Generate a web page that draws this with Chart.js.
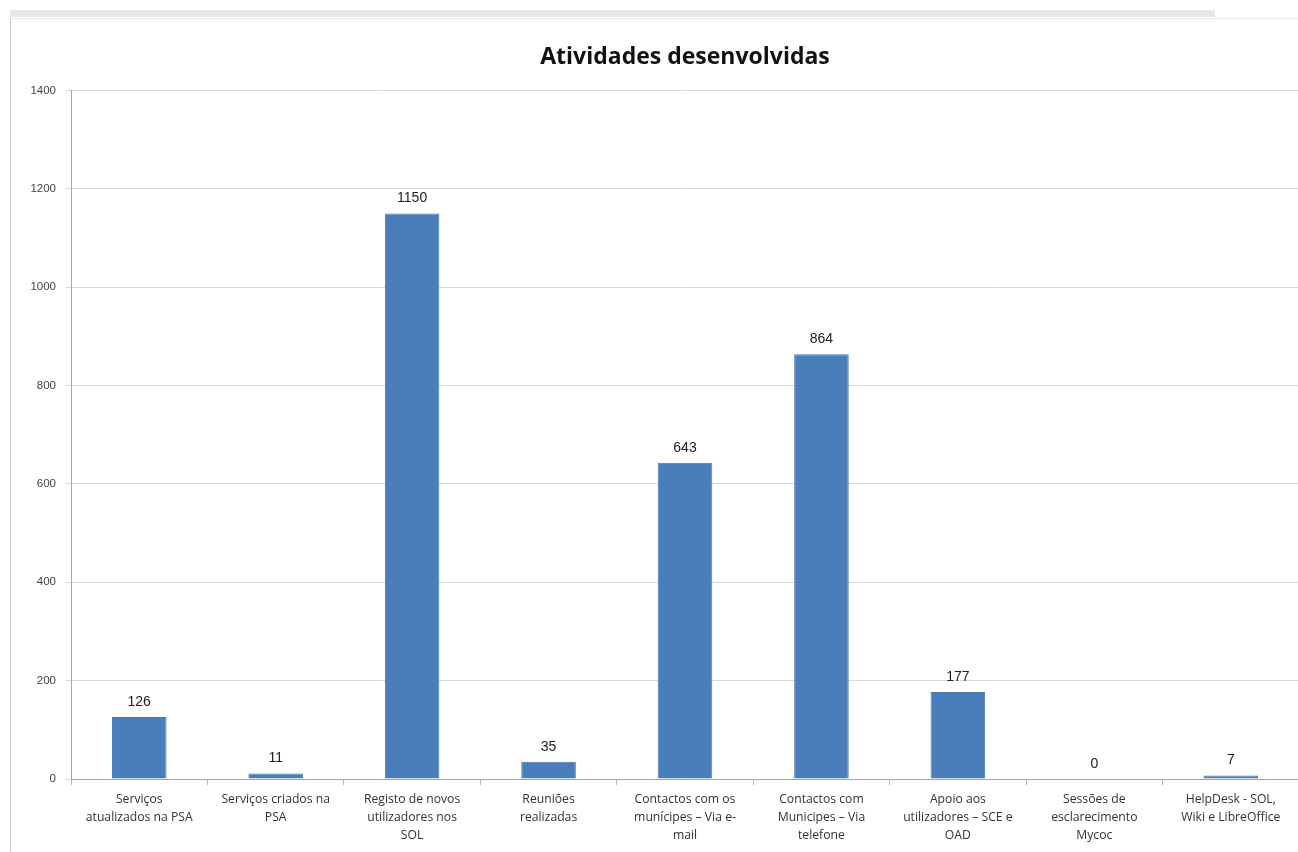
<!DOCTYPE html>
<html>
<head>
<meta charset="utf-8">
<script src="https://cdn.jsdelivr.net/npm/chart.js@4.4.0/dist/chart.umd.min.js"></script>
<style>
  html, body { margin: 0; padding: 0; background: #fff; }
  body { width: 1298px; height: 852px; position: relative; overflow: hidden; }
  #strip { position: absolute; left: 10px; top: 10px; width: 1205px; height: 7px; background: #e6e6e6; }
  #box { position: absolute; left: 10px; top: 18px; width: 1288px; height: 834px; border-left: 1px solid #cfcfcf; border-top: 1px solid #ececec; box-sizing: border-box; }
  #wrap { position: absolute; left: 1px; top: 0; width: 1287px; height: 834px; }
</style>
</head>
<body>
<div id="strip"></div>
<div id="box"><div id="wrap"><canvas id="chart"></canvas></div></div>
<script>
const categories = [
    ["Serviços", "atualizados na PSA"],
    ["Serviços criados na", "PSA"],
    ["Registo de novos", "utilizadores nos", "SOL"],
    ["Reuniões", "realizadas"],
    ["Contactos com os", "munícipes – Via e-", "mail"],
    ["Contactos com", "Municipes – Via", "telefone"],
    ["Apoio aos", "utilizadores – SCE e", "OAD"],
    ["Sessões de", "esclarecimento", "Mycoc"],
    ["HelpDesk - SOL,", "Wiki e LibreOffice"]
];
const activityValues = [126, 11, 1150, 35, 643, 864, 177, 0, 7];
const yTicks = [0, 200, 400, 600, 800, 1000, 1200, 1400];

// draw the value above each bar
const valueLabels = {
    id: 'valueLabels',
    afterDatasetsDraw(chart) {
        const ctx = chart.ctx;
        const meta = chart.getDatasetMeta(0);
        ctx.save();
        ctx.font = '14px "Liberation Sans", Arial, sans-serif';
        ctx.fillStyle = '#222';
        ctx.textAlign = 'center';
        ctx.textBaseline = 'bottom';
        meta.data.forEach((bar, i) => {
            ctx.fillText(String(activityValues[i]), bar.x, bar.y - 8);
        });
        ctx.restore();
    }
};

new Chart(document.getElementById('chart'), {
    type: 'bar',
    data: {
        labels: categories,
        datasets: [{
            data: activityValues,
            backgroundColor: '#4a7ebb',
            borderColor: '#4577b3',
            borderWidth: 1,
            barPercentage: 0.4,
            categoryPercentage: 1
        }]
    },
    options: {
        responsive: true,
        maintainAspectRatio: false,
        animation: false,
        layout: { padding: { left: 0, right: 0, top: 0, bottom: 0 } },
        plugins: {
            legend: { display: false },
            tooltip: { enabled: false },
            title: {
                display: true,
                fullSize: false,
                text: 'Atividades desenvolvidas',
                color: '#111',
                font: { family: '"Open Sans", "Liberation Sans", sans-serif', size: 23, weight: 'bold' },
                padding: { top: 25, bottom: 19 }
            }
        },
        scales: {
            x: {
                grid: { display: true, drawOnChartArea: false, offset: true, tickLength: 6, color: '#bdbdbd' },
                border: { color: '#a6a6a6' },
                ticks: {
                    autoSkip: false,
                    maxRotation: 0,
                    minRotation: 0,
                    color: '#333',
                    padding: 5,
                    font: { family: '"Open Sans", "Liberation Sans", sans-serif', size: 12.2, lineHeight: 1.5 }
                },
                afterFit(scale) { scale.height = 74; }
            },
            y: {
                min: 0,
                max: 1400,
                afterBuildTicks(scale) { scale.ticks = yTicks.map(v => ({ value: v })); },
                grid: { color: '#d9d9d9', tickLength: 5 },
                border: { color: '#a6a6a6' },
                ticks: {
                    color: '#444',
                    padding: 10,
                    callback: v => String(v),
                    font: { family: '"Liberation Sans", Arial, sans-serif', size: 11.5 }
                },
                afterFit(scale) { scale.width = 59; }
            }
        }
    },
    plugins: [valueLabels]
});
</script>
</body>
</html>
